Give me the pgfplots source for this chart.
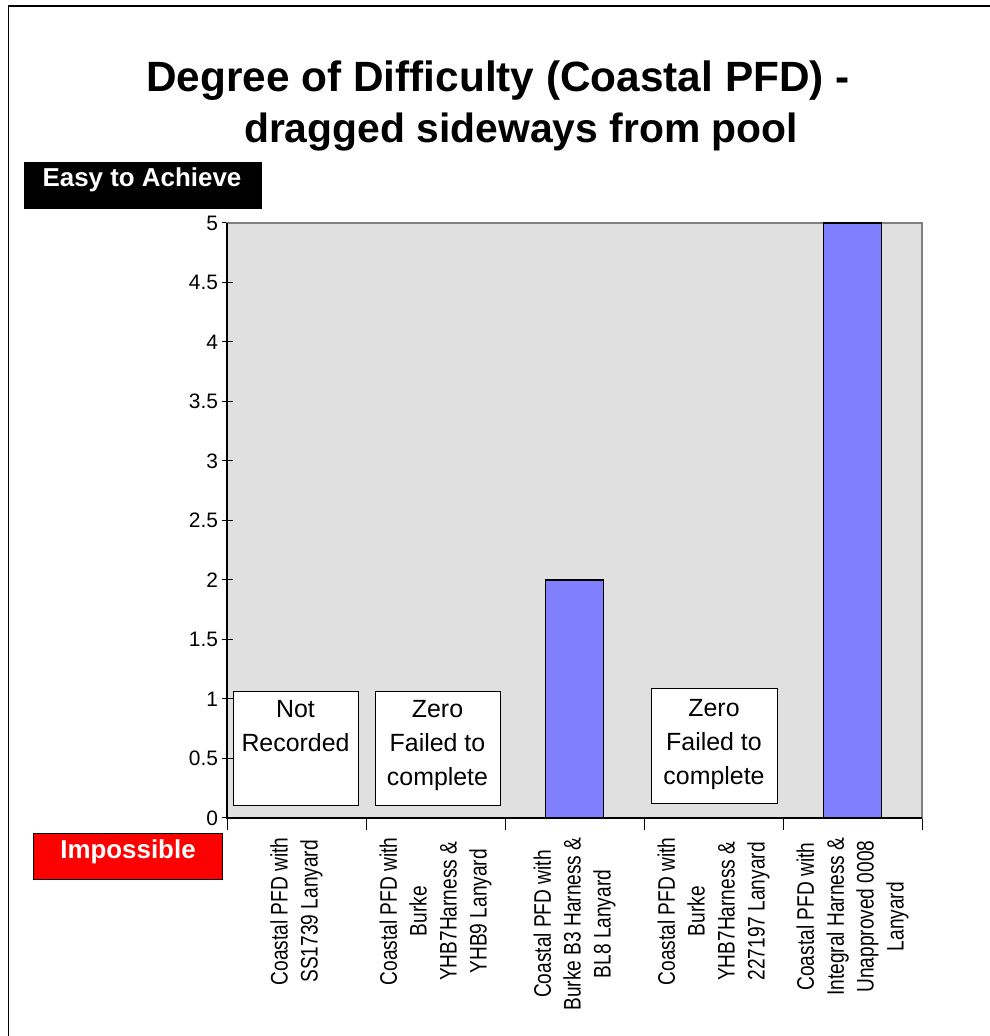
\documentclass[border=0pt]{standalone}
\usepackage{pgfplots}
\pgfplotsset{compat=1.18}
\usepackage{fontspec}
\setmainfont{Liberation Sans}
\definecolor{plotbg}{RGB}{224,224,224}
\definecolor{barblue}{RGB}{128,128,255}
\definecolor{framegray}{RGB}{128,128,128}
\begin{document}
\begin{tikzpicture}[x=1bp,y=1bp]
\useasboundingbox (0,0) rectangle (990,1036);
\draw[line width=1.5bp] (8.5,0) -- (8.5,1030) -- (990,1030);
\node[anchor=base, inner sep=0, font=\fontsize{42.5}{51}\selectfont\bfseries] at (498,944) {Degree of Difficulty (Coastal PFD) -};
\node[anchor=base, inner sep=0, font=\fontsize{41}{51}\selectfont\bfseries] at (521,893) {dragged sideways from pool};
\begin{axis}[at={(227bp,218bp)}, anchor=south west, scale only axis,
  width=695bp, height=595bp,
  xmin=-0.5, xmax=4.5, ymin=0, ymax=5,
  clip=false,
  axis background/.style={fill=plotbg},
  axis line style={draw=framegray, line width=1.2bp},
  ytick={0,0.5,1,1.5,2,2.5,3,3.5,4,4.5,5},
  xtick={0,1,2,3,4},
  xticklabels={{Coastal PFD with\\SS1739 Lanyard},
               {Coastal PFD with\\Burke\\YHB7Harness \&\\YHB9 Lanyard},
               {Coastal PFD with\\Burke B3 Harness \&\\BL8 Lanyard},
               {Coastal PFD with\\Burke\\YHB7Harness \&\\227197 Lanyard},
               {Coastal PFD with\\Integral Harness \&\\Unapproved 0008\\Lanyard}},
  minor xtick={-0.5,0.5,1.5,2.5,3.5,4.5},
  major x tick style={draw=none},
  tick align=center,
  major tick length=11bp, minor tick length=12bp,
  xtick pos=left, ytick pos=left,
  tick style={black, line width=1bp},
  /pgf/number format/assume math mode=true,
  yticklabel style={font=\fontsize{21}{24}\selectfont},
  xticklabel style={rotate=90, xscale=0.8, anchor=east, align=center, xshift=-7bp, font=\fontsize{24}{30}\selectfont},
  ybar, bar width=58bp,
]
\addplot[fill=barblue, draw=black, line width=1.5bp] coordinates {(0,0) (1,0) (2,2) (3,0) (4,5)};
\draw[black, line width=1.5bp] (rel axis cs:0,1) -- (rel axis cs:0,0) -- (rel axis cs:1,0);
\end{axis}
% annotation boxes
\draw[fill=white, draw=black, line width=1bp] (233,230) rectangle (358,344);
\node[anchor=north, inner sep=0, align=center, font=\fontsize{25}{34}\selectfont] at (295.5,336) {Not\\Recorded};
\draw[fill=white, draw=black, line width=1bp] (375,230) rectangle (500,344);
\node[anchor=north, inner sep=0, align=center, font=\fontsize{25}{34}\selectfont] at (437.5,336) {Zero\\Failed to\\complete};
\draw[fill=white, draw=black, line width=1bp] (651,232) rectangle (777,347);
\node[anchor=north, inner sep=0, align=center, font=\fontsize{25}{34}\selectfont] at (714,337) {Zero\\Failed to\\complete};
% Easy / Impossible
\fill[black] (24,827) rectangle (262,874);
\node[anchor=base, inner sep=0, text=white, font=\fontsize{26}{30}\selectfont\bfseries] at (142,849) {Easy to Achieve};
\draw[fill=red, draw=black, line width=1bp] (33,156) rectangle (222,202);
\node[anchor=base, inner sep=0, text=white, font=\fontsize{26}{30}\selectfont\bfseries] at (128,177) {Impossible};
\end{tikzpicture}
\end{document}
